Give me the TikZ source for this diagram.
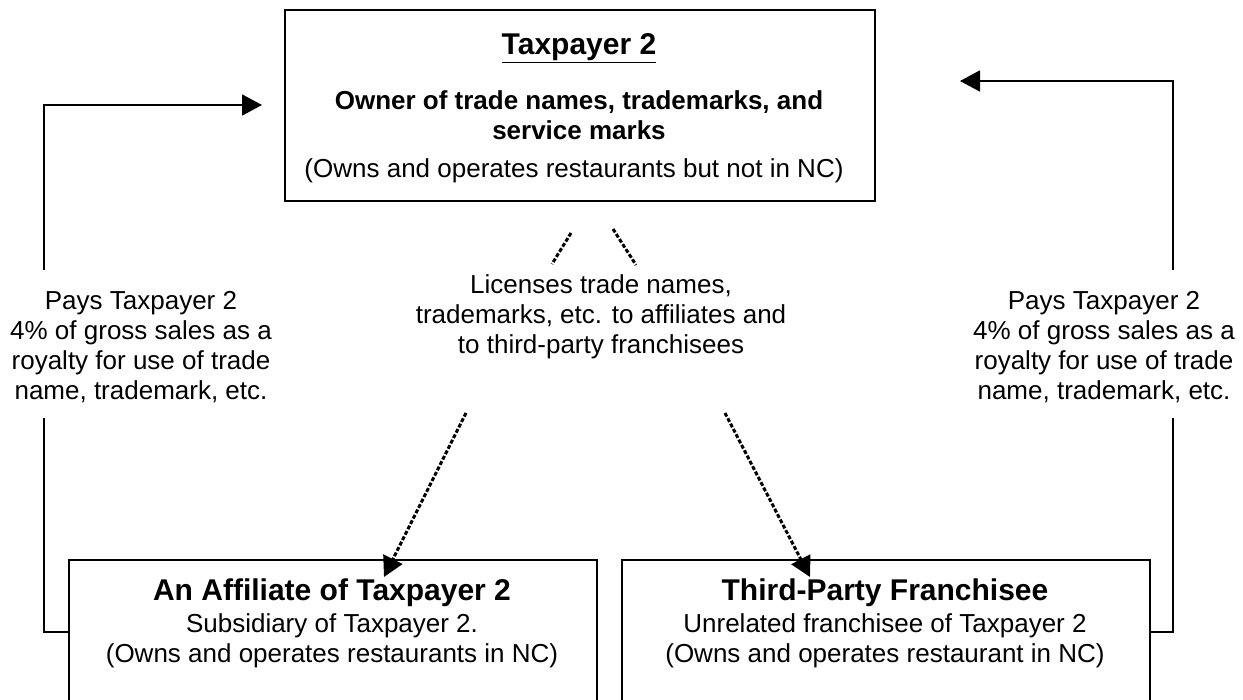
\documentclass[tikz,border=0pt]{standalone}
\usepackage{fontspec}
\setmainfont{Liberation Sans}
\usetikzlibrary{arrows.meta}
\begin{document}
\begin{tikzpicture}[x=1pt,y=-1pt,
  box/.style={draw, line width=1.8pt, inner sep=0pt},
  conn/.style={line width=1.8pt},
  tip/.style={-{Triangle[length=20pt,width=21pt]}},
  dsh/.style={line width=3pt, dash pattern=on 4pt off 2pt},
  txt/.style={font=\fontsize{26}{30}\selectfont, inner sep=0pt, anchor=base},
  btxt/.style={font=\fontsize{26}{30}\selectfont\bfseries, inner sep=0pt, anchor=base},
  ttl/.style={font=\fontsize{30}{34}\selectfont\bfseries, inner sep=0pt, anchor=base}]
\useasboundingbox (0,0) rectangle (1243,700);
\clip (0,0) rectangle (1243,700);
% boxes
\node[box, anchor=north west, minimum width=590pt, minimum height=191pt] (top) at (284,9) {};
\node[box, anchor=north west, minimum width=528pt, minimum height=170pt] (aff) at (68,559) {};
\node[box, anchor=north west, minimum width=528pt, minimum height=170pt] (fra) at (621,559) {};
% top texts
\node[ttl] (t1) at (579,55) {\underline{Taxpayer 2}};
\node[btxt] (t2) at (579,110) {Owner of trade names, trademarks, and};
\node[btxt] (t3) at (579,140) {service marks};
\node[txt] (t4) at (574,178) {(Owns and operates restaurants but not in NC)};
% bottom texts
\node[ttl] (a1) at (332,600) {An Affiliate of Taxpayer 2};
\node[txt] (a2) at (332,632) {Subsidiary of Taxpayer 2.};
\node[txt] (a3) at (332,662) {(Owns and operates restaurants in NC)};
\node[ttl] (f1) at (885,600) {Third-Party Franchisee};
\node[txt] (f2) at (885,632) {Unrelated franchisee of Taxpayer 2};
\node[txt] (f3) at (885,662) {(Owns and operates restaurant in NC)};
% left label
\node[txt] (pl1) at (141,310) {Pays Taxpayer 2};
\node[txt] (pl2) at (141,340) {4\% of gross sales as a};
\node[txt] (pl3) at (141,370) {royalty for use of trade};
\node[txt] (pl4) at (141,400) {name, trademark, etc.};
% right label
\node[txt] (pr1) at (1104,310) {Pays Taxpayer 2};
\node[txt] (pr2) at (1104,340) {4\% of gross sales as a};
\node[txt] (pr3) at (1104,370) {royalty for use of trade};
\node[txt] (pr4) at (1104,400) {name, trademark, etc.};
% middle label
\node[txt] (l1) at (601,294) {Licenses trade names,};
\node[txt] (l2) at (601,324) {trademarks, etc. to affiliates and};
\node[txt] (l3) at (601,354) {to third-party franchisees};
% connector coordinates
\coordinate (la) at (68,632);
\coordinate (lb) at (44,632);
\coordinate (lc) at (44,418);
\coordinate (ld) at (44,270);
\coordinate (le) at (44,105);
\coordinate (lf) at (262,105);
\coordinate (ra) at (1149,632);
\coordinate (rb) at (1173,632);
\coordinate (rc) at (1173,418);
\coordinate (rd) at (1173,270);
\coordinate (re) at (1173,81);
\coordinate (rf) at (960,81);
\draw[conn] (la) -- (lb) -- (lc);
\draw[conn, tip] (ld) -- (le) -- (lf);
\draw[conn] (ra) -- (rb) -- (rc);
\draw[conn, tip] (rd) -- (re) -- (rf);
% dashed license arrows
\coordinate (da1) at (571,233);
\coordinate (da2) at (552,264);
\coordinate (da3) at (466,413);
\coordinate (da4) at (384,577);
\coordinate (db1) at (613,229);
\coordinate (db2) at (636,265);
\coordinate (db3) at (725,413);
\coordinate (db4) at (810,577);
\draw[dsh] (da1) -- (da2);
\draw[dsh, tip] (da3) -- (da4);
\draw[dsh] (db1) -- (db2);
\draw[dsh, tip] (db3) -- (db4);
\end{tikzpicture}
\end{document}
